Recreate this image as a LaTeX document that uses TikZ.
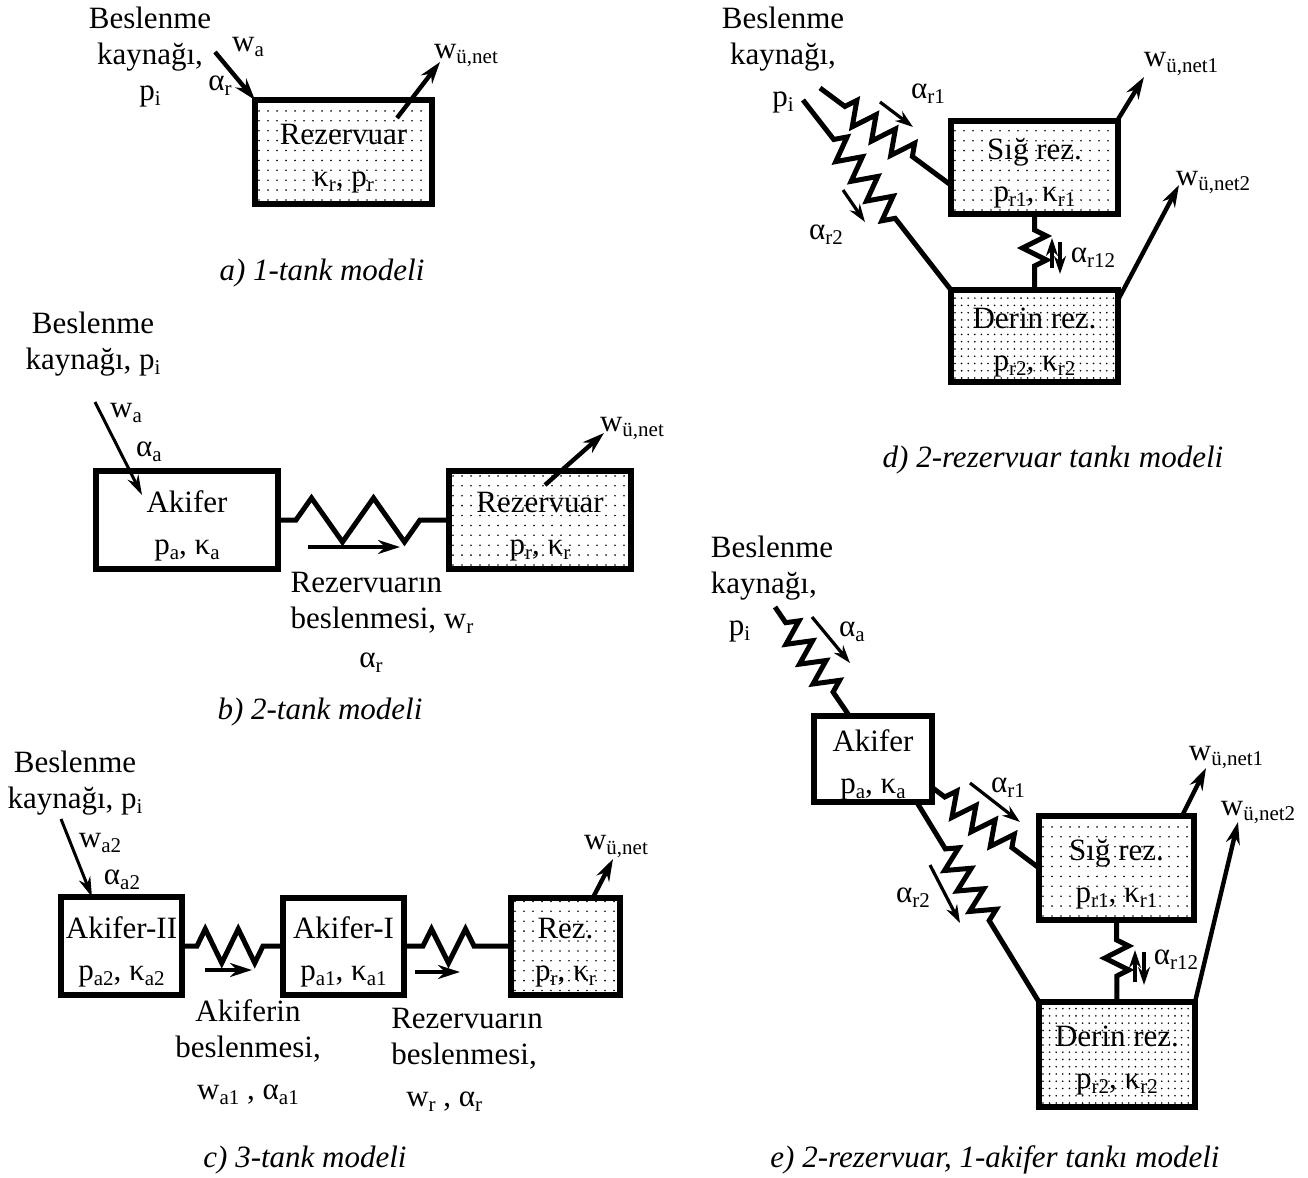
\documentclass[tikz,border=0pt]{standalone}
\usepackage{fontspec}
\setmainfont{Liberation Serif}
\usetikzlibrary{arrows.meta,decorations.pathmorphing,calc}
\newcommand{\sbs}[1]{\raisebox{-2.5pt}{\fontsize{10.5pt}{10.5pt}\selectfont #1}}
\newcommand{\tanklbl}[2]{\rule{0pt}{16.5pt}#1\\[3pt]#2}
\begin{document}
\begin{tikzpicture}[x=0.5pt, y=-0.5pt,
	every node/.style={font=\fontsize{15.5pt}{18pt}\selectfont, inner sep=0pt, align=center},
	tank/.style={draw, line width=3pt, outer sep=0pt},
	dots/.style={path picture={\foreach \i in {0,...,29}{\foreach \j in {0,...,17}{
				\fill ($(path picture bounding box.south west)+(2pt+\i*#1,2pt+\j*1.1*#1)$) circle (0.45pt);}}}},
	flow/.style={line width=2.2pt, -{Stealth[length=11pt,width=7pt]}},
	thinflow/.style={line width=1.5pt, -{Stealth[length=10pt,width=6pt]}},
	akim/.style={line width=1.6pt, -{Stealth[length=9pt,width=6pt]}},
	spring/.style={line width=2.5pt, miter limit=4, decorate, decoration={zigzag, #1}},
	caption/.style={font=\fontsize{15.5pt}{18pt}\selectfont\itshape}]
	\useasboundingbox (0,0) rectangle (1308,1178);
	%(a) 1 tank
	\node[tank, dots=4.5pt, minimum width=88.5pt, minimum height=52pt] (RezA) at (343.5,152) {\tanklbl{Rezervuar}{κ\sbs{r}, p\sbs{r}}};
	\node (SrcA) at (150,57) {Beslenme\\kaynağı,\\p\sbs{i}};
	\node (wA) at (248,47) {w\sbs{a}};
	\node (alA) at (220,86) {α\sbs{r}};
	\node (wnetA) at (466,55) {w\sbs{ü,net}};
	\coordinate (InA) at (215,52);
	\coordinate (OutA) at (440,62);
	\draw[flow] (InA) -- (RezA.north west);
	\draw[flow] ($(RezA.north east)+(-35,18)$) -- (OutA);
	\node[caption] (capA) at (322,273) {a) 1-tank modeli};
	%(b) 2 tank
	\node[tank, minimum width=91pt, minimum height=49pt] (AkifB) at (187,520) {\tanklbl{Akifer}{p\sbs{a}, κ\sbs{a}}};
	\node[tank, dots=4.5pt, minimum width=91pt, minimum height=49pt] (RezB) at (540,520) {\tanklbl{Rezervuar}{p\sbs{r}, κ\sbs{r}}};
	\node (SrcB) at (93,344) {Beslenme\\kaynağı, p\sbs{i}};
	\node (wB) at (126,413) {w\sbs{a}};
	\node (alB) at (149,452) {α\sbs{a}};
	\node (wnetB) at (632,428) {w\sbs{ü,net}};
	\node[align=left] (besB) at (382,603) {Rezervuarın\\beslenmesi, w\sbs{r}};
	\node (alrB) at (371,663) {α\sbs{r}};
	\coordinate (InB) at (95,402);
	\coordinate (TipB) at (142,495);
	\coordinate (OutB) at (604,433);
	\draw[thinflow] (InB) -- (TipB);
	\draw[spring={segment length=31pt, amplitude=11pt, pre length=9pt, post length=14pt}] (AkifB.east) -- (RezB.west);
	\draw[flow] (308,547) -- (400,547);
	\draw[flow] ($(RezB.north west)+(96,14)$) -- (OutB);
	\node[caption] (capB) at (320,712) {b) 2-tank modeli};
	%(c) 3 tank
	\node[tank, minimum width=60.5pt, minimum height=49pt] (Akif2C) at (121.5,946) {\tanklbl{Akifer-II}{p\sbs{a2}, κ\sbs{a2}}};
	\node[tank, minimum width=60.5pt, minimum height=48.5pt] (Akif1C) at (343.5,946) {\tanklbl{Akifer-I}{p\sbs{a1}, κ\sbs{a1}}};
	\node[tank, dots=4.5pt, minimum width=54.5pt, minimum height=48.5pt] (RezC) at (565.5,946) {\tanklbl{Rez.}{p\sbs{r}, κ\sbs{r}}};
	\node (SrcC) at (75,783) {Beslenme\\kaynağı, p\sbs{i}};
	\node (wC) at (100,843) {w\sbs{a2}};
	\node (alC) at (122,880) {α\sbs{a2}};
	\node (wnetC) at (616,846) {w\sbs{ü,net}};
	\node (AkbesC) at (248,1052) {Akiferin\\beslenmesi,\\[3pt]w\sbs{a1} , α\sbs{a1}};
	\node[align=left] (RezbesC) at (467,1060) {Rezervuarın\\beslenmesi,\\[3pt]\hspace{7.5pt}w\sbs{r} , α\sbs{r}};
	\coordinate (InC) at (61,819);
	\coordinate (OutC) at (613,859);
	\draw[thinflow] (InC) -- ($(Akif2C.north west)+(31,0)$);
	\draw[spring={segment length=16.5pt, amplitude=8.5pt, pre length=7.5pt, post length=10pt}] (Akif2C.east) -- (Akif1C.west);
	\draw[spring={segment length=17pt, amplitude=8.5pt, pre length=9.5pt, post length=12pt}] (Akif1C.east) -- (RezC.west);
	\draw[flow] (205,970) -- (252,970);
	\draw[flow] (415,972) -- (460,972);
	\draw[flow] ($(RezC.north west)+(82,0)$) -- (OutC);
	\node[caption] (capC) at (305,1160) {c) 3-tank modeli};
	%(d) 2 rezervuar
	\node[tank, dots=4.5pt, minimum width=83.5pt, minimum height=46.5pt] (SigD) at (1034.5,167.5) {\tanklbl{Sığ rez.}{p\sbs{r1}, κ\sbs{r1}}};
	\node[tank, dots=3.3pt, minimum width=83.5pt, minimum height=46pt] (DerD) at (1034.5,336) {\tanklbl{Derin rez.}{p\sbs{r2}, κ\sbs{r2}}};
	\node (SrcD) at (783,60) {Beslenme\\kaynağı,\\[3pt]p\sbs{i}};
	\node (alr1D) at (928,94) {α\sbs{r1}};
	\node (alr2D) at (826,235) {α\sbs{r2}};
	\node (alr12D) at (1093,258) {α\sbs{r12}};
	\node (wnet1D) at (1181,64) {w\sbs{ü,net1}};
	\node (wnet2D) at (1213,182) {w\sbs{ü,net2}};
	\coordinate (In1D) at (820,88);
	\coordinate (In2D) at (803,100);
	\coordinate (Out1D) at (1144,77);
	\coordinate (Out2D) at (1179,185);
	\draw[spring={segment length=12pt, amplitude=6pt, pre length=15.5pt, post length=21pt}] (In1D) -- ($(SigD.south west)!0.31!(SigD.north west)$);
	\draw[spring={segment length=12.5pt, amplitude=6pt, pre length=25pt, post length=45pt}] (In2D) -- (DerD.north west);
	\draw[spring={segment length=12pt, amplitude=6pt, pre length=8pt, post length=8.5pt}] (SigD.south) -- (DerD.north);
	\draw[akim] (880,102) -- (913,127);
	\draw[akim] (843,190) -- (865,222);
	\draw[akim, line width=2.2pt] (1052,268) -- (1052,238);
	\draw[akim] (1060,242) -- (1060,274);
	\draw[flow] ($(SigD.north east)+(-1,0)$) -- (Out1D);
	\draw[flow] ($(DerD.north east)+(0,10)$) -- (Out2D);
	\node[caption] (capD) at (1053,460) {d) 2-rezervuar tankı modeli};
	%(e) 2 rezervuar, 1 akifer
	\node[tank, minimum width=59pt, minimum height=43pt] (AkifE) at (873,759) {\tanklbl{Akifer}{p\sbs{a}, κ\sbs{a}}};
	\node[tank, dots=4.5pt, minimum width=77.5pt, minimum height=52pt] (SigE) at (1116.5,868) {\tanklbl{Sığ rez.}{p\sbs{r1}, κ\sbs{r1}}};
	\node[tank, dots=3.3pt, minimum width=78pt, minimum height=52.5pt] (DerE) at (1117,1054.5) {\tanklbl{Derin rez.}{p\sbs{r2}, κ\sbs{r2}}};
	\node[align=left] (SrcE) at (772,589) {Beslenme\\kaynağı,\\[3pt]\hspace{9pt}p\sbs{i}};
	\node (alaE) at (852,632) {α\sbs{a}};
	\node (alr1E) at (1008,788) {α\sbs{r1}};
	\node (alr2E) at (913,898) {α\sbs{r2}};
	\node (alr12E) at (1176,960) {α\sbs{r12}};
	\node (wnet1E) at (1226,757) {w\sbs{ü,net1}};
	\node (wnet2E) at (1258,812) {w\sbs{ü,net2}};
	\coordinate (InE) at (775,607);
	\coordinate (Out1E) at (1206,768);
	\coordinate (Out2E) at (1238,822);
	\draw[spring={segment length=12pt, amplitude=6pt, pre length=9.5pt, post length=9pt}] (InE) -- ($(AkifE.north west)!0.3!(AkifE.north east)$);
	\draw[spring={segment length=12pt, amplitude=6pt, pre length=8pt, post length=16pt}] ($(AkifE.south east)!0.17!(AkifE.north east)$) -- (SigE.west);
	\draw[spring={segment length=12pt, amplitude=6pt, pre length=27.5pt, post length=45pt}] ($(AkifE.south west)!0.87!(AkifE.south east)$) -- (DerE.north west);
	\draw[spring={segment length=12pt, amplitude=6pt, pre length=10pt, post length=9.5pt}] (SigE.south) -- (DerE.north);
	\draw[akim] (812,617) -- (850,663);
	\draw[akim] (970,783) -- (1020,822);
	\draw[akim] (930,865) -- (960,923);
	\draw[akim, line width=2.2pt] (1135,982) -- (1135,950);
	\draw[akim] (1144,952) -- (1144,985);
	\draw[flow] ($(SigE.north east)+(-12,0)$) -- (Out1E);
	\draw[flow] (DerE.north east) -- (Out2E);
	\node[caption] (capE) at (995,1160) {e) 2-rezervuar, 1-akifer tankı modeli};
\end{tikzpicture}
\end{document}
